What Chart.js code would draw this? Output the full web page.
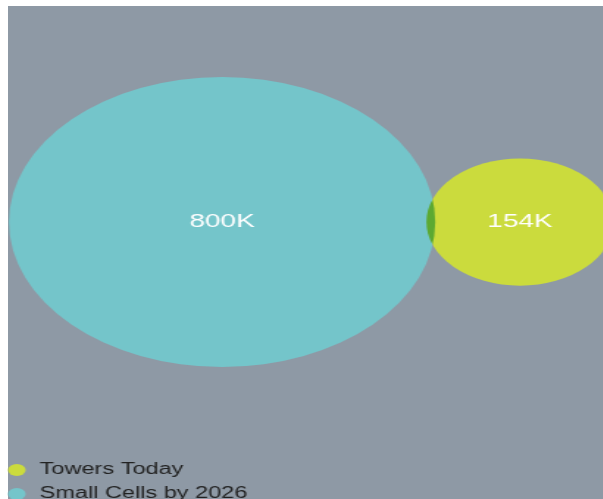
<!DOCTYPE html>
<html>
<head>
<meta charset="utf-8">
<script src="https://cdn.jsdelivr.net/npm/chart.js@4"></script>
<style>
  html, body { margin: 0; padding: 0; width: 603px; height: 499px; overflow: hidden; background: #fff; }
  #bg { position: absolute; left: 8px; top: 6px; right: 0; bottom: 0; background: #8e99a5; }
  #wrap { position: absolute; left: -5.8px; top: 3px; width: 416px; height: 507px;
          transform: scaleX(1.47); transform-origin: 0 0; }
</style>
</head>
<body>
<div id="bg"></div>
<div id="wrap"><canvas id="bubbles"></canvas></div>
<script>
// datos
const nombres = ["Towers Today", "Small Cells by 2026"];
const valores = [154, 800];
const etiquetas = ["154K", "800K"];
const posX = [86, 37.3];
const posY = [56.8, 56.8];
const colores = ["#cbdb3d", "#74c5ca"];

// radio proporcional al area, el mayor mide 145px
const radioMax = 145;
const maxValor = Math.max(...valores);

const datasets_bubbles = nombres.map((nombre, i) => ({
  label: nombre,
  data: [{ x: posX[i], y: posY[i], r: radioMax * Math.sqrt(valores[i] / maxValor) }],
  backgroundColor: colores[i],
  borderWidth: 0,
  clip: false,
}));

// mezcla "multiply" para la zona donde se cruzan + textos blancos
const pluginBurbujas = {
  id: "burbujas",
  beforeDatasetsDraw(chart) {
    chart.ctx.save();
    chart.ctx.globalCompositeOperation = "multiply";
  },
  afterDatasetsDraw(chart) {
    const ctx = chart.ctx;
    ctx.restore();
    ctx.save();
    ctx.fillStyle = "#ffffff";
    ctx.font = "19px 'Liberation Sans', Arial, sans-serif";
    ctx.textAlign = "center";
    ctx.textBaseline = "middle";
    chart.data.datasets.forEach((ds, i) => {
      const punto = chart.getDatasetMeta(i).data[0];
      ctx.fillText(etiquetas[i], punto.x, punto.y);
    });
    ctx.restore();
  },
};

new Chart(document.getElementById("bubbles"), {
  type: "bubble",
  data: { datasets: datasets_bubbles },
  options: {
    responsive: true,
    maintainAspectRatio: false,
    devicePixelRatio: 1,
    animation: false,
    events: [],
    layout: { padding: 0, autoPadding: false },
    scales: {
      x: { display: false, min: 0, max: 100 },
      y: { display: false, min: 0, max: 100 },
    },
    plugins: {
      tooltip: { enabled: false },
      legend: {
        position: "chartArea",
        align: "end",
        labels: {
          usePointStyle: true,
          pointStyle: "circle",
          boxWidth: 15,
          boxHeight: 8.5,
          padding: 8,
          color: "#222222",
          font: { size: 16, family: "'Liberation Sans', Arial, sans-serif" },
        },
      },
    },
  },
  plugins: [pluginBurbujas],
});
</script>
</body>
</html>
